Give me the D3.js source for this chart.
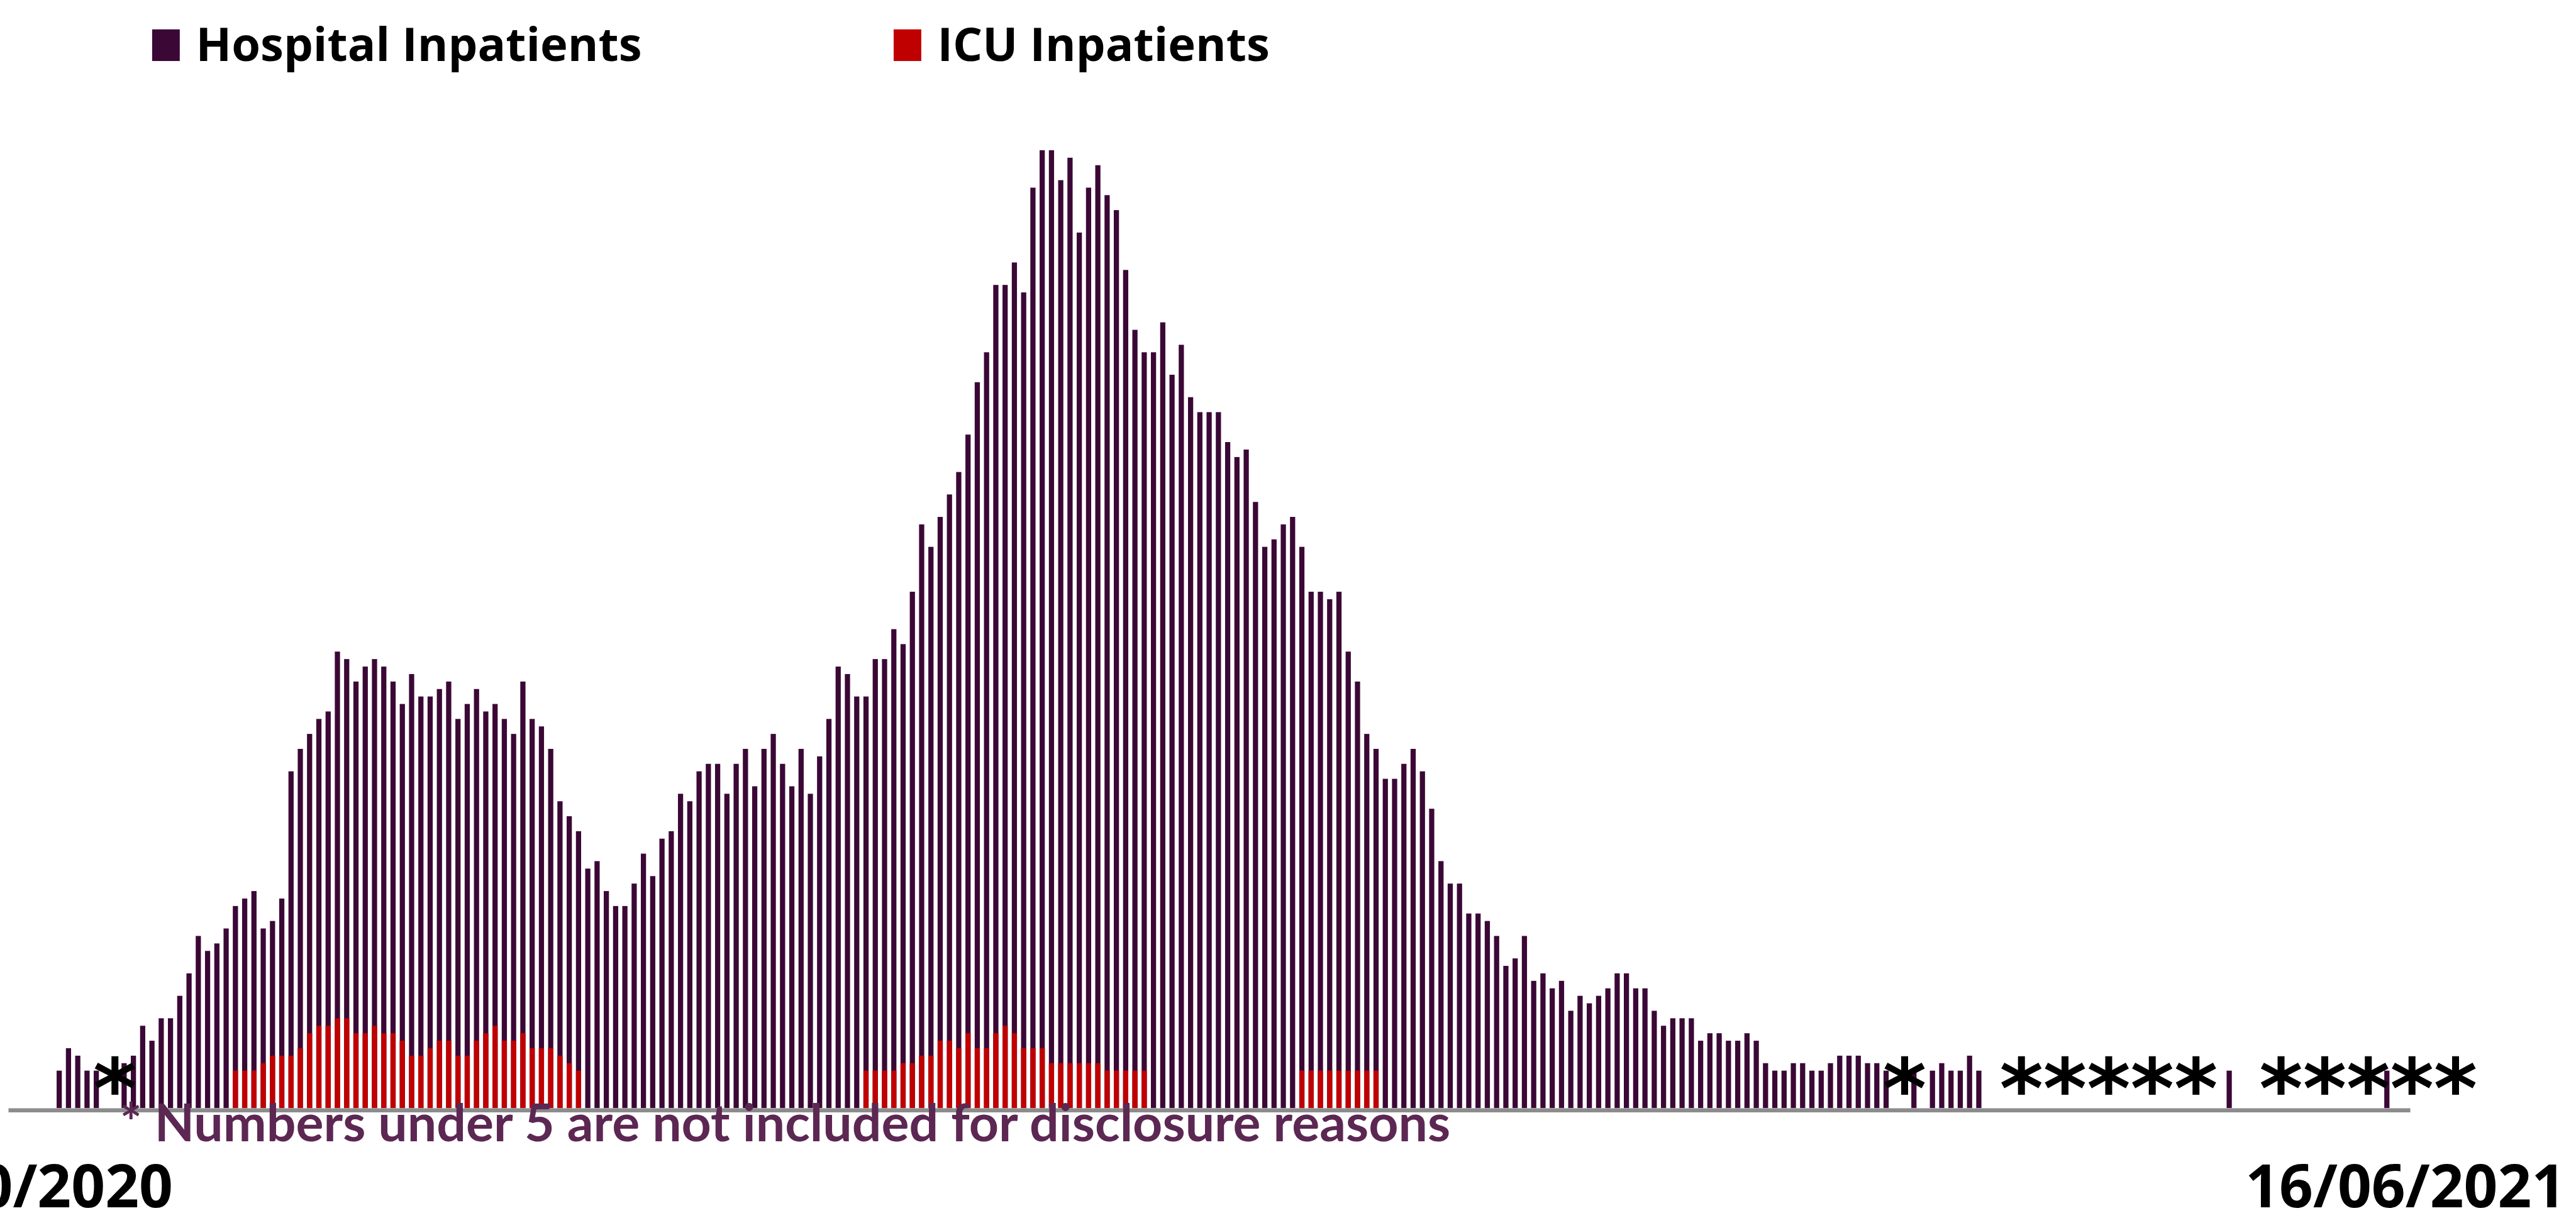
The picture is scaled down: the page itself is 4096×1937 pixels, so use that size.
<!DOCTYPE html>
<html>
<head>
<meta charset="utf-8">
<script src="https://cdn.jsdelivr.net/npm/d3@7"></script>
<style>
  html, body { margin: 0; padding: 0; background: #fff; }
  svg { display: block; }
  text { font-family: "Open Sans", sans-serif; font-weight: bold; }
</style>
</head>
<body>
<div id="chart-area"></div>
<script>
// Daily inpatient counts, 01/10/2020 - 16/06/2021
// null = not shown (under 5, suppressed)
const startDate = "01/10/2020";
const endDate = "16/06/2021";

const hospital = [
  null, null, null, null, null, 5, 8, 7, 5, 5,
  null, null, 6, 7, 11, 9, 12, 12, 15, 18,
  23, 21, 22, 24, 27, 28, 29, 24, 25, 28,
  45, 48, 50, 52, 53, 61, 60, 57, 59, 60,
  59, 57, 54, 58, 55, 55, 56, 57, 52, 54,
  56, 53, 54, 52, 50, 57, 52, 51, 48, 41,
  39, 37, 32, 33, 29, 27, 27, 30, 34, 31,
  36, 37, 42, 41, 45, 46, 46, 42, 46, 48,
  43, 48, 50, 46, 43, 48, 42, 47, 52, 59,
  58, 55, 55, 60, 60, 64, 62, 69, 78, 75,
  79, 82, 85, 90, 97, 101, 110, 110, 113, 109,
  123, 128, 128, 124, 127, 117, 123, 126, 122, 120,
  112, 104, 101, 101, 105, 98, 102, 95, 93, 93,
  93, 89, 87, 88, 81, 75, 76, 78, 79, 75,
  69, 69, 68, 69, 61, 57, 50, 48, 44, 44,
  46, 48, 45, 40, 33, 30, 30, 26, 26, 25,
  23, 19, 20, 23, 17, 18, 16, 17, 13, 15,
  14, 15, 16, 18, 18, 16, 16, 13, 11, 12,
  12, 12, 9, 10, 10, 9, 9, 10, 9, 6,
  5, 5, 6, 6, 5, 5, 6, 7, 7, 7,
  6, 6, 5, null, null, 5, null, 5, 6, 5,
  5, 7, 5, null, null, null, null, null, null, null,
  null, null, null, null, null, null, null, null, null, null,
  null, null, null, null, null, null, null, null, null, 5,
  null, null, null, null, null, null, null, null, null, null,
  null, null, null, null, null, null, 5, null, null
];

const icu = [
  null, null, null, null, null, null, null, null, null, null,
  null, null, null, null, null, null, null, null, null, null,
  null, null, null, null, 5, 5, 5, 6, 7, 7,
  7, 8, 10, 11, 11, 12, 12, 10, 10, 11,
  10, 10, 9, 7, 7, 8, 9, 9, 7, 7,
  9, 10, 11, 9, 9, 10, 8, 8, 8, 7,
  6, 5, null, null, null, null, null, null, null, null,
  null, null, null, null, null, null, null, null, null, null,
  null, null, null, null, null, null, null, null, null, null,
  null, null, 5, 5, 5, 5, 6, 6, 7, 7,
  9, 9, 8, 10, 8, 8, 10, 11, 10, 8,
  8, 8, 6, 6, 6, 6, 6, 6, 5, 5,
  5, 5, 5, null, null, null, null, null, null, null,
  null, null, null, null, null, null, null, null, null, 5,
  5, 5, 5, 5, 5, 5, 5, 5, null, null,
  null, null, null, null, null, null, null, null, null, null,
  null, null, null, null, null, null, null, null, null, null,
  null, null, null, null, null, null, null, null, null, null,
  null, null, null, null, null, null, null, null, null, null,
  null, null, null, null, null, null, null, null, null, null,
  null, null, null, null, null, null, null, null, null, null,
  null, null, null, null, null, null, null, null, null, null,
  null, null, null, null, null, null, null, null, null, null,
  null, null, null, null, null, null, null, null, null, null,
  null, null, null, null, null, null, null, null, null, null,
  null, null, null, null, null, null, null, null, null
];

const seriesNames = ["Hospital Inpatients", "ICU Inpatients"];
const seriesColors = ["#3b0836", "#c00000"];

// "*" markers for suppressed days
const suppressedMarks = [
  { day: "12/10/2020", text: "*" },
  { day: "23/04/2021", text: "*" },
  { day: "15/05/2021", text: "*****" },
  { day: "12/06/2021", text: "*****" }
];

const footnote = "* Numbers under 5 are not included for disclosure reasons";

// drawn in the reference's own pixel space, scaled down by the viewBox
const W = 4474, H = 2116;
const plot = { left: 14, right: 4186, base: 1925 };
const unit = 13; // px per patient

const svg = d3.select("#chart-area").append("svg")
    .attr("width", 4096)
    .attr("height", 1937)
    .attr("viewBox", `0 0 ${W} ${H}`);

const parseDay = d3.utcParse("%d/%m/%Y");
const fmtDay = d3.utcFormat("%d/%m/%Y");
const days = d3.utcDay.range(parseDay(startDate), d3.utcDay.offset(parseDay(endDate), 1)).map(fmtDay);

const rows = days.map((day, i) => ({ day: day, hosp: hospital[i], icu: icu[i] }));

const x = d3.scaleBand()
    .domain(days)
    .range([plot.left, plot.right])
    .paddingInner(0.44)
    .paddingOuter(0.22);

const y = d3.scaleLinear()
    .domain([0, 130])
    .range([plot.base, plot.base - 130 * unit]);

const color = d3.scaleOrdinal(seriesNames, seriesColors);

// Hospital bars
svg.append("g")
    .selectAll("rect")
    .data(rows.filter(d => d.hosp != null))
    .join("rect")
    .attr("x", d => x(d.day))
    .attr("width", x.bandwidth())
    .attr("y", d => y(d.hosp))
    .attr("height", d => y(0) - y(d.hosp))
    .attr("fill", color(seriesNames[0]));

// ICU bars, overlapping the hospital ones
svg.append("g")
    .selectAll("rect")
    .data(rows.filter(d => d.icu != null))
    .join("rect")
    .attr("x", d => x(d.day))
    .attr("width", x.bandwidth())
    .attr("y", d => y(d.icu))
    .attr("height", d => y(0) - y(d.icu))
    .attr("fill", color(seriesNames[1]));

// X axis, only first and last date
const xAxis = d3.axisBottom(x)
    .tickValues([startDate, endDate])
    .tickSize(0)
    .tickPadding(96);

const axisG = svg.append("g")
    .attr("transform", `translate(0, ${plot.base + 3.5})`)
    .call(xAxis);

axisG.select(".domain")
    .attr("stroke", "#8c8c8c")
    .attr("stroke-width", 7);

axisG.selectAll(".tick text")
    .attr("fill", "#000")
    .style("font-size", "103px");

// suppressed markers
svg.append("g")
    .selectAll("text")
    .data(suppressedMarks)
    .join("text")
    .attr("x", d => x(d.day) + x.bandwidth() / 2)
    .attr("y", plot.base - 73)
    .attr("dy", "0.62em")
    .attr("text-anchor", "middle")
    .style("font-family", "DejaVu Sans")
    .style("font-size", "145px")
    .attr("fill", "#000")
    .text(d => d.text);

// footnote (sits over the axis line, as in the original)
svg.append("text")
    .attr("x", 208)
    .attr("y", 1983)
    .attr("fill", "#5c2753")
    .style("font-family", "Lato, sans-serif")
    .style("font-size", "90px")
    .text(footnote);

// Legend
const legend = svg.append("g")
    .selectAll("g")
    .data(seriesNames)
    .join("g")
    .attr("transform", (d, i) => `translate(${264 + i * 1288}, 0)`);

legend.append("rect")
    .attr("x", 0)
    .attr("y", 51)
    .attr("width", 48)
    .attr("height", 55)
    .attr("fill", d => color(d));

legend.append("text")
    .attr("x", 76)
    .attr("y", 106)
    .attr("fill", "#000")
    .style("font-size", "81px")
    .text(d => d);
</script>
</body>
</html>
